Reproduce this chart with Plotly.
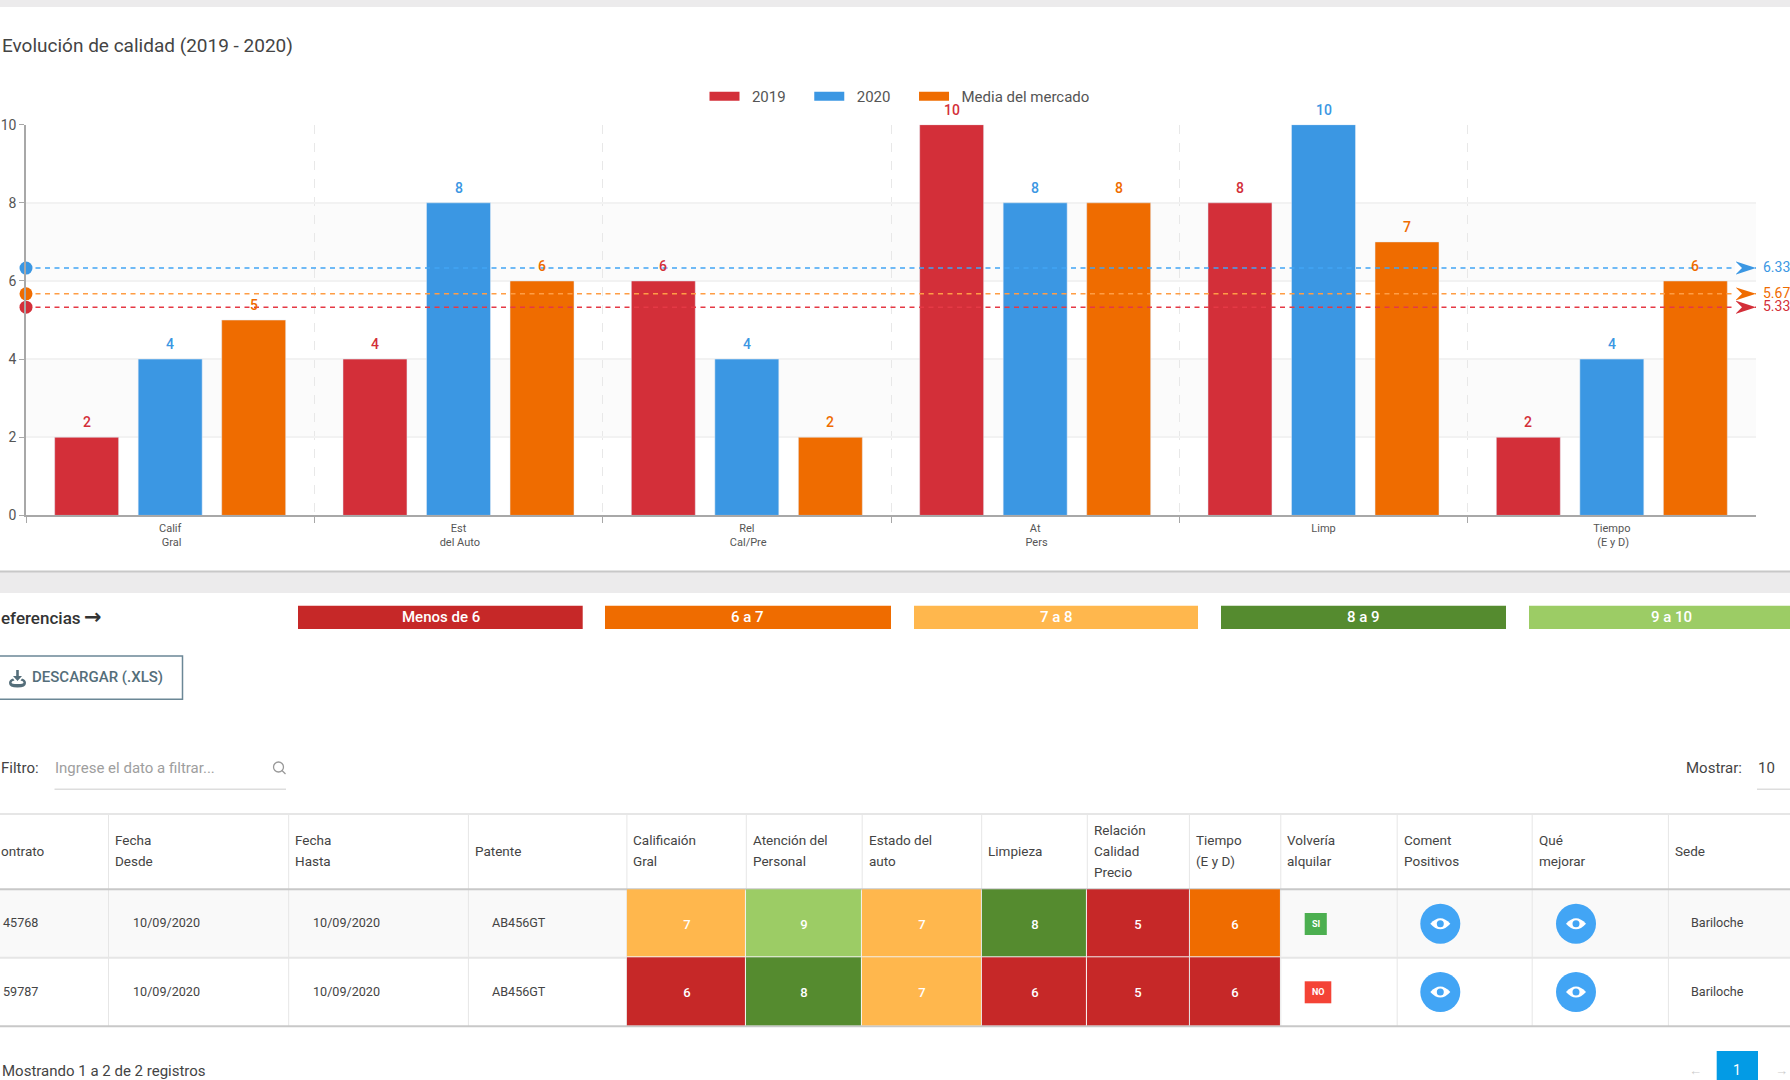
import plotly.graph_objects as go

# chart data
categories = ["Calif<br>\u00a0Gral", "Est<br>\u00a0del Auto", "Rel<br>\u00a0Cal/Pre",
              "At<br>\u00a0Pers", "Limp", "Tiempo<br>\u00a0(E y D)"]
series_names = ["2019", "2020", "Media del mercado"]
values_2019 = [2, 4, 6, 10, 8, 2]
values_2020 = [4, 8, 4, 8, 10, 4]
values_media = [5, 6, 2, 8, 7, 6]
mean_values = [6.33, 5.67, 5.33]
y_ticks = [0, 2, 4, 6, 8, 10]

# table data
header_labels = ["ontrato", "Fecha<br>Desde", "Fecha<br>Hasta", "Patente", "Calificaión<br>Gral",
                 "Atención del<br>Personal", "Estado del<br>auto", "Limpieza",
                 "Relación<br>Calidad<br>Precio", "Tiempo<br>(E y D)", "Volvería<br>alquilar",
                 "Coment<br>Positivos", "Qué<br>mejorar", "Sede"]
contratos = ["45768", "59787"]
fechas_desde = ["10/09/2020", "10/09/2020"]
fechas_hasta = ["10/09/2020", "10/09/2020"]
patentes = ["AB456GT", "AB456GT"]
sedes = ["Bariloche", "Bariloche"]
volveria = ["SI", "NO"]
scores = [[7, 9, 7, 8, 5, 6],
          [6, 8, 7, 6, 5, 6]]
score_bands = [[2, 4, 2, 3, 0, 1],
               [0, 3, 2, 0, 0, 0]]
band_labels = ["Menos de 6", "6 a 7", "7 a 8", "8 a 9", "9 a 10"]

# colours
RED, BLUE, ORANGE = "#d32f39", "#3b97e3", "#ef6c00"
series_colors = [RED, BLUE, ORANGE]
mean_line_colors = ["#42a5f5", "#ff9d45", "#e53945"]
mean_marker_colors = [BLUE, ORANGE, RED]
band_colors = ["#c62828", "#ef6c00", "#ffb74d", "#558b2f", "#9ccc65"]
TEXT = "#444444"
LINE = "#e6e6e6"

# page layout, in screen pixels
W, H = 1790, 1080
PLOT_L, PLOT_R, PLOT_T, PLOT_B = 26, 1756, 124.7, 515.4
column_edges = [-5, 108.5, 288.7, 468.4, 626.9, 746.3, 862.2, 981.7, 1087.3, 1189.4,
                1280.8, 1397.2, 1532.2, 1668.4, 1795]
TABLE_T, HEAD_B, ROW1_B, ROW2_B = 814, 889.3, 957.7, 1026.3
row_mid = [922.7, 991]
band_edges = [(298, 582.7), (605, 891), (914, 1198), (1221, 1506), (1529, 1795)]

fig = go.Figure()

# bars
for name, vals, color in zip(series_names, [values_2019, values_2020, values_media], series_colors):
    fig.add_trace(go.Bar(x=categories, y=vals, name=name, marker=dict(color=color),
                         legendgroup=name, showlegend=False, hoverinfo="x+y"))
    # legend swatches are wide and flat in the original, so use line keys, nbsp gives the spacing
    pad = "\u00a0" * 2 + name + "\u00a0" * 5
    fig.add_trace(go.Scatter(x=[None], y=[None], mode="lines", name=pad, legendgroup=name,
                             line=dict(color=color, width=9)))

# dashed averages with dot and arrow ends, on an overlay x axis
for val, lc, mc in zip(mean_values, mean_line_colors, mean_marker_colors):
    fig.add_trace(go.Scatter(x=[0, 1], y=[val, val], xaxis="x3", yaxis="y", mode="lines+markers",
                             line=dict(color=lc, width=1.5, dash="5px,4.5px"), cliponaxis=False,
                             marker=dict(color=mc, size=[13, 21], symbol=["circle", "arrow"], opacity=1,
                                         angle=[0, 90], line=dict(width=0)),
                             showlegend=False, hoverinfo="y"))

# score cells
fig.add_trace(go.Heatmap(x=column_edges[4:11], y=[HEAD_B, ROW1_B, ROW2_B], z=score_bands, text=scores,
                         texttemplate="%{text}",
                         textfont=dict(family="Roboto", size=13, color="white", weight=500),
                         xaxis="x2", yaxis="y2", zmin=-0.5, zmax=4.5, xgap=1, ygap=1, showscale=False,
                         colorscale=[[i / 5, c] for i, c in enumerate(band_colors) for i in (i, i + 1)],
                         hoverinfo="skip"))

# eye buttons
eye_x = [1440.3, 1440.3, 1576, 1576]
eye_y = [row_mid[0] + 1, row_mid[1] + 1, row_mid[0] + 1, row_mid[1] + 1]
fig.add_trace(go.Scatter(x=eye_x, y=eye_y, xaxis="x2", yaxis="y2", mode="markers", showlegend=False,
                         marker=dict(symbol="circle", size=40, color="#42a5f5", line=dict(width=0)),
                         hoverinfo="skip"))

# search icon
fig.add_trace(go.Scatter(x=[278.5], y=[767], xaxis="x2", yaxis="y2", mode="markers", showlegend=False,
                         marker=dict(symbol="circle-open", size=10, color="#999999", line=dict(width=1.3)),
                         hoverinfo="skip"))

shapes = []


def rect(x0, y0, x1, y1, fill=None, line=None, width=1, **kw):
    shapes.append(dict(type="rect", xref="x2", yref="y2", x0=x0, y0=y0, x1=x1, y1=y1, layer="below",
                       fillcolor=fill, line=dict(color=line, width=width if line else 0), **kw))


def hline(x0, x1, y, color, width=1):
    shapes.append(dict(type="line", xref="x2", yref="y2", x0=x0, x1=x1, y0=y, y1=y, layer="below",
                       line=dict(color=color, width=width)))


def glyph(path, color):
    shapes.append(dict(type="path", xref="x2", yref="y2", path=path, layer="above",
                       fillcolor=color, line=dict(width=0)))


# grey page bands
rect(-5, -5, W + 5, 7, fill="#ecebec")
rect(-5, 572, W + 5, 593, fill="#ecebec")
hline(-5, W + 5, 571.5, "#c8c8c8", 2)

# stripes behind the bars
for y0, y1 in [(8, 6), (4, 2)]:
    shapes.append(dict(type="rect", xref="x domain", yref="y", x0=0, x1=1, y0=y0, y1=y1, layer="below",
                       fillcolor="#fbfbfb", line=dict(width=0)))

# notch in the back of the arrow heads
for val in mean_values:
    py = PLOT_B - val / 10 * (PLOT_B - PLOT_T)
    glyph(f"M1735,{py - 7} L1742,{py} L1735,{py + 7} Z", "white")

# colour key
for (x0, x1), color in zip(band_edges, band_colors):
    rect(x0, 605.7, x1, 629, fill=color)

# button with download icon
rect(-5, 656, 182.5, 699.3, line="#6b8796", width=1.5)
glyph("M16.2,670 L18.8,670 L18.8,676 L22,676 L17.5,681 L13,676 L16.2,676 Z", "#546e7a")
glyph("M9,683 Q9,679.5 13,678.5 L14.5,680.5 Q11.5,681 11.5,682.5 Q11.5,684 17.5,684 Q23.5,684 23.5,682.5 "
      "Q23.5,681 20.5,680.5 L22,678.5 Q26,679.5 26,683 Q26,687.5 17.5,687.5 Q9,687.5 9,683 Z", "#546e7a")

# filter underlines and search handle
hline(54.5, 286, 789.3, "#dddddd", 1.5)
hline(1757, W + 5, 789.3, "#dddddd", 1.5)
shapes.append(dict(type="line", xref="x2", yref="y2", x0=282, y0=770.5, x1=285.5, y1=774, layer="below",
                   line=dict(color="#999999", width=1.3)))

# table grid
rect(-5, HEAD_B, W + 5, ROW1_B, fill="#f9f9f9")
for x in column_edges[1:-1]:
    shapes.append(dict(type="line", xref="x2", yref="y2", x0=x, x1=x, y0=TABLE_T, y1=ROW2_B, layer="below",
                       line=dict(color=LINE, width=1)))
hline(-5, W + 5, TABLE_T, LINE, 2)
hline(-5, W + 5, ROW1_B, LINE, 2)
hline(-5, W + 5, HEAD_B, "#c8c8c8", 2)
hline(-5, W + 5, ROW2_B, "#c8c8c8", 2)

# eye icons on the buttons
for cx, cy in zip(eye_x, eye_y):
    glyph(f"M{cx - 10},{cy} Q{cx},{cy - 11} {cx + 10},{cy} Q{cx},{cy + 11} {cx - 10},{cy} Z", "white")
    shapes.append(dict(type="circle", xref="x2", yref="y2", x0=cx - 3.5, x1=cx + 3.5, y0=cy - 3.5, y1=cy + 3.5,
                       layer="above", fillcolor="#42a5f5", line=dict(width=0)))

# pagination box
rect(1716.7, 1051, 1758, 1085, fill="#039be5")

annotations = []


def label(x, y, text, size=14, color=TEXT, anchor="left", weight=400, family="Roboto"):
    annotations.append(dict(xref="x2", yref="y2", x=x, y=y, text=text, showarrow=False, xanchor=anchor,
                            yanchor="middle", borderpad=0,
                            font=dict(family=family, size=size, color=color, weight=weight)))


label(1, 45, "Evolución de calidad (2019 - 2020)", size=19)
label(0, 617.7, "eferencias", size=17, color="#333333", weight=500)
label(83, 617, "→", size=21, color="#333333", weight=700, family="DejaVu Sans")
for (x0, x1), text in zip(band_edges, band_labels):
    # all boxes are 285 wide, the last one runs off the page
    label(x0 + 142.5, 616.5, text, size=15, color="white", anchor="center", weight=500)
label(30.6, 677, "DESCARGAR (.XLS)", size=15, color="#546e7a", weight=500)
label(0, 768, "Filtro:", size=15)
label(53.5, 768, "Ingrese el dato a filtrar...", size=15, color="#9e9e9e")
label(1685, 768, "Mostrar:", size=15)
label(1757, 768, "10", size=15)
label(0.5, 1070.5, "Mostrando 1 a 2 de 2 registros", size=15)
label(1737, 1070, "1", size=14, color="white", anchor="center")
label(1695, 1070, "←", size=13, color="#cccccc", anchor="center")
label(1781, 1070, "→", size=13, color="#cccccc", anchor="center")

# table headers, one annotation per line to keep the wide line spacing
# (an annotation anchored left of x=0 gets hidden, so the first one sits on the edge)
header_x = [0] + [e + 5.5 for e in column_edges[1:-1]]
for x, head in zip(header_x, header_labels):
    lines = head.split("<br>")
    for i, line in enumerate(lines):
        label(x, 850.7 + (i - (len(lines) - 1) / 2) * 21, line, size=13.5)

# table body text
for r in range(2):
    label(2.3, row_mid[r], contratos[r], size=12.6)
    label(131.5, row_mid[r], fechas_desde[r], size=12.6)
    label(311.5, row_mid[r], fechas_hasta[r], size=12.6)
    label(490.5, row_mid[r], patentes[r], size=12.6)
    label(1690, row_mid[r], sedes[r], size=12.6)

# yes/no badges
for r, text in enumerate(volveria):
    x1 = 1326.8 if text == "SI" else 1331.3
    rect(1304.7, row_mid[r] - 9.7, x1, row_mid[r] + 12.3, fill="#4caf50" if text == "SI" else "#f44336")
    label((1304.7 + x1) / 2, row_mid[r] + 1.3, text, size=9, color="white", anchor="center", weight=700)

# value labels over the bars
for offset, vals, color in zip([-83.4, 0, 83.4], [values_2019, values_2020, values_media], series_colors):
    for cat, val in zip(categories, vals):
        annotations.append(dict(xref="x", yref="y", x=cat, y=val, text=str(val), showarrow=False,
                                xshift=offset, yshift=15,
                                font=dict(family="Roboto", size=14, color=color, weight=500)))

# values at the arrow tips
for val, color in zip(mean_values, mean_marker_colors):
    annotations.append(dict(xref="x2", yref="y", x=1762, y=val, text=f"{val:.2f}", showarrow=False, xanchor="left",
                            yshift=1, borderpad=0, font=dict(family="Roboto", size=14, color=color)))

fig.update_layout(
    width=W, height=H,
    margin=dict(l=0, r=0, t=0, b=0),
    paper_bgcolor="white", plot_bgcolor="rgba(0,0,0,0)",
    font=dict(family="Roboto", color="#555555"),
    barmode="group", bargap=0.131, bargroupgap=0.234,
    shapes=shapes, annotations=annotations,
    legend=dict(orientation="h", x=909 / W, y=1 - 96.5 / H,
                xanchor="center", yanchor="middle", font=dict(size=15, color="#555555"),
                itemwidth=30, traceorder="normal"),
    # the default template turns automargin on, which would shift everything off the pixel layout
    xaxis=dict(domain=[PLOT_L / W, PLOT_R / W], type="category", categoryorder="array", categoryarray=categories,
               tickson="boundaries", ticks="outside", ticklen=6, tickcolor="#a8a8a8", automargin=False,
               showgrid=True, gridcolor="#e8e8e8", griddash="dash", gridwidth=1, ticklabelstandoff=1,
               showline=True, linecolor="#a8a8a8", linewidth=2,
               tickfont=dict(family="Roboto", size=11, color="#555555"), fixedrange=True),
    yaxis=dict(domain=[1 - PLOT_B / H, 1 - PLOT_T / H], range=[0, 10], tickvals=y_ticks,
               ticks="outside", ticklen=5, tickcolor="#a8a8a8", automargin=False,
               showgrid=True, gridcolor="#f2f2f2", gridwidth=1.5, zeroline=False,
               showline=True, linecolor="#a8a8a8", linewidth=1.5,
               tickfont=dict(family="Roboto", size=14, color="#555555"), fixedrange=True),
    xaxis2=dict(domain=[0, 1], range=[0, W], anchor="y2", visible=False, automargin=False, fixedrange=True),
    yaxis2=dict(domain=[0, 1], range=[H, 0], anchor="x2", visible=False, automargin=False, fixedrange=True),
    xaxis3=dict(overlaying="x", range=[0, 1], anchor="y", visible=False, automargin=False, fixedrange=True),
)

# the page body has a default margin, the figure has to sit flush in the window
fig.write_html("out.html", config=dict(displayModeBar=False),
               post_script="document.body.style.margin = '0';")
